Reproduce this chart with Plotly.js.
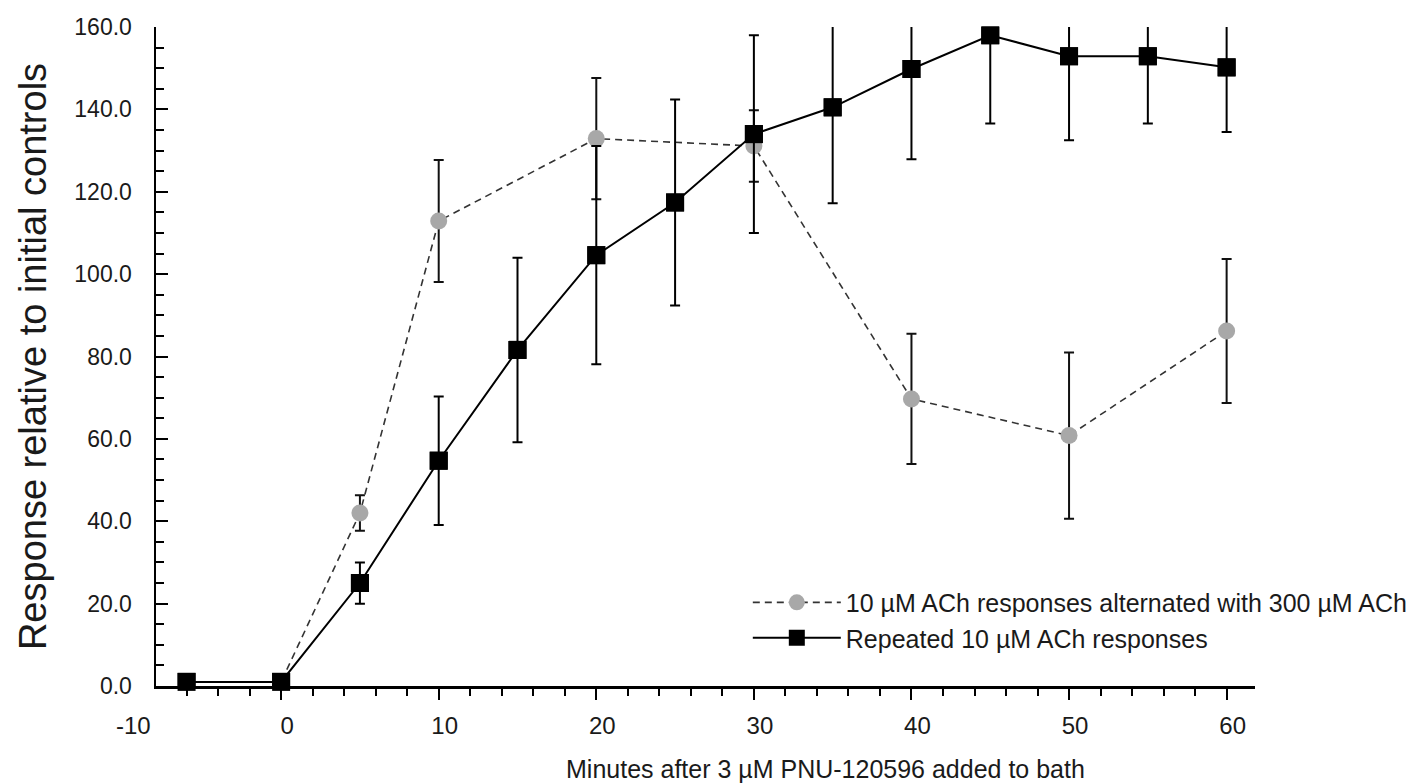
<!DOCTYPE html>
<html>
<head>
<meta charset="utf-8">
<script src="https://cdn.plot.ly/plotly-3.0.1.min.js"></script>
<style>html,body{margin:0;padding:0;background:#fff;}#chart{width:1426px;height:784px;}</style>
</head>
<body>
<div id="chart"></div>
<script>
// Alternated series (10 µM ACh alternated with 300 µM ACh)
var altMinutes = [-6, 0, 5, 10, 20, 30, 40, 50, 60];
var altValues  = [1, 1, 42.0, 112.9, 132.9, 131.1, 69.7, 60.8, 86.2];
var altErrors  = [0, 0, 4.3, 14.8, 14.7, 8.7, 15.8, 20.2, 17.5];

// Repeated series (repeated 10 µM ACh responses)
var repMinutes = [-6, 0, 5, 10, 15, 20, 25, 30, 35, 40, 45, 50, 55, 60];
var repValues  = [1, 1, 25.0, 54.7, 81.6, 104.6, 117.4, 134.0, 140.5, 149.8, 158.0, 152.9, 152.9, 150.2];
var repErrors  = [0, 0, 5.0, 15.6, 22.4, 26.5, 25.0, 24.0, 23.3, 21.9, 21.4, 20.4, 16.3, 15.7];

var seriesNames = ['10 µM ACh responses alternated with 300 µM ACh', 'Repeated 10 µM ACh responses'];
var xTickVals = [0, 10, 20, 30, 40, 50, 60];
var extraTick = -10;
var xRange = [-7.94, 61.8];
var yRange = [0, 160];

var font = 'Liberation Sans, Arial, sans-serif';
var textColor = '#1a1a1a';

var traces = [
  {
    x: altMinutes, y: altValues, name: seriesNames[0], type: 'scatter', mode: 'lines+markers',
    line: {color: '#333', width: 1.6, dash: '7px,5px'},
    marker: {symbol: 'circle', size: 17, color: '#a8a8a8'},
    error_y: {type: 'data', array: altErrors, visible: true, color: '#111', thickness: 2, width: 5}
  },
  {
    x: repMinutes, y: repValues, name: seriesNames[1], type: 'scatter', mode: 'lines+markers',
    line: {color: '#000', width: 2},
    marker: {symbol: 'square', size: 18, color: '#000'},
    error_y: {type: 'data', array: repErrors, visible: true, color: '#000', thickness: 2, width: 5}
  },
  {
    x: repMinutes, y: repValues, type: 'scatter', mode: 'markers', showlegend: false, hoverinfo: 'skip',
    cliponaxis: false,
    marker: {symbol: 'square', size: 18, color: '#000'}
  }
];

var layout = {
  width: 1426, height: 784,
  margin: {l: 156, r: 171, t: 27, b: 98},
  paper_bgcolor: '#fff', plot_bgcolor: '#fff',
  font: {family: font, color: textColor},
  showlegend: true,
  xaxis: {
    range: xRange, tickmode: 'array', tickvals: xTickVals,
    showgrid: false, zeroline: false, showline: true, linecolor: '#000', linewidth: 2.5,
    ticks: 'outside', ticklen: 11, tickwidth: 2, tickcolor: '#000',
    minor: {dtick: 2, tick0: 0, ticks: 'outside', ticklen: 7, tickwidth: 2, tickcolor: '#000', showgrid: false},
    tickfont: {size: 24, family: font, color: textColor},
    ticklabelstandoff: 6, ticklabelshift: 6
  },
  yaxis: {
    range: yRange, dtick: 20, tick0: 0, tickformat: '.1f',
    showgrid: false, zeroline: false, showline: true, linecolor: '#000', linewidth: 2.5,
    ticks: 'inside', ticklen: 12, tickwidth: 2, tickcolor: '#000',
    minor: {dtick: 5, ticks: 'inside', ticklen: 8, tickwidth: 2, tickcolor: '#000', showgrid: false},
    tickfont: {size: 23, family: font, color: textColor},
    ticklabelstandoff: 17,
    title: {text: 'Response relative to initial controls', font: {size: 38, family: font, color: textColor}, standoff: 16}
  },
  legend: {
    x: 0.5385, y: 0.1, xanchor: 'left', yanchor: 'middle',
    bgcolor: 'rgba(0,0,0,0)', font: {size: 25, family: font, color: textColor},
    itemwidth: 88, tracegroupgap: 0
  },
  annotations: [
    {
      text: String(extraTick), xref: 'paper', yref: 'paper',
      x: (extraTick - xRange[0]) / (xRange[1] - xRange[0]), y: 0,
      xanchor: 'center', yanchor: 'top', yshift: -24, xshift: 10, showarrow: false,
      font: {size: 24, family: font, color: textColor}
    },
    {
      text: 'Minutes after 3 µM PNU-120596 added to bath', xref: 'paper', yref: 'paper',
      x: 0.6096, y: 0, xanchor: 'center', yanchor: 'middle', yshift: -83, showarrow: false,
      font: {size: 25, family: font, color: textColor}
    }
  ]
};

Plotly.newPlot('chart', traces, layout, {displayModeBar: false, staticPlot: true});
</script>
</body>
</html>
